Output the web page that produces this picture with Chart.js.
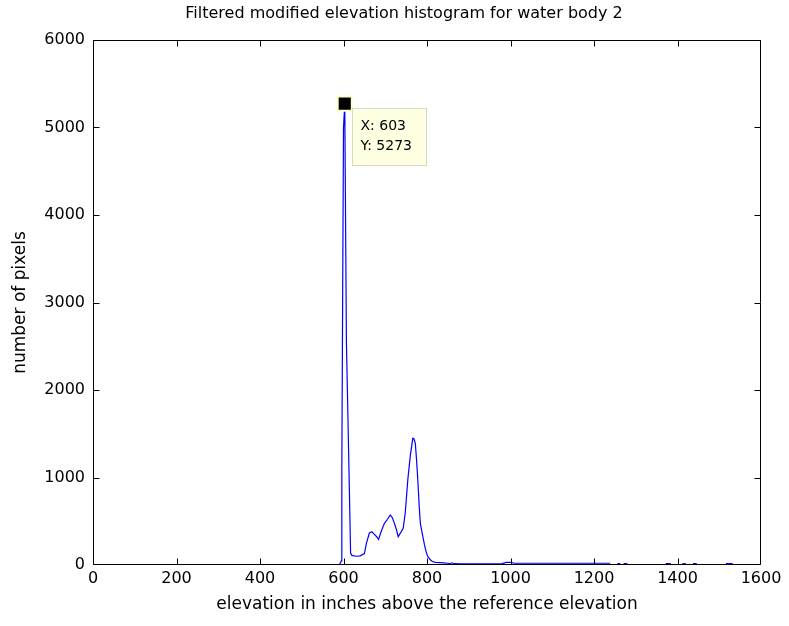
<!DOCTYPE html>
<html>
<head>
<meta charset="utf-8">
<script src="https://cdn.jsdelivr.net/npm/chart.js@4.4.0/dist/chart.umd.min.js"></script>
<style>
  html, body { margin: 0; padding: 0; background: #fff; }
  #wrap { width: 789px; height: 626px; }
</style>
</head>
<body>
<div id="wrap"><canvas id="myChart" width="789" height="626"></canvas></div>
<script>
// histogram (null = gap in the line)
var elevation = [585, 590, 595, 596, 598, 600, 603, 607, 613, 617, 620, 630, 640, 650, 655,
    662, 668, 674, 680, 684, 690, 698, 705, 712, 717, 722, 727, 731, 737, 743, 748, 754, 760, 766, 769,
    772, 775, 778, 781, 784, 789, 794, 798, 802, 808, 813, 820, 830, 840, 850, 855, 860, 865, 880, 900,
    950, 980, 990, 1000, 1010, 1100, 1200, 1239, 1247, 1256, 1263, 1267, 1271, 1280, 1320, 1372, 1384, 1400,
    1412, 1420, 1430, 1437, 1446, 1480, 1516, 1532];
var pixels = [0, 0, 50, 1086, 3086, 4994, 5273, 2552, 1124, 137, 110, 100, 105, 130, 250,
    366, 380, 350, 320, 293, 380, 476, 520, 571, 540, 476, 400, 324, 370, 419, 600, 971, 1250, 1448, 1440,
    1390, 1200, 971, 700, 476, 350, 229, 150, 95, 60, 40, 30, 28, 25, 20, 15, 25, 15, 12, 12,
    12, 15, 30, 30, 20, 20, 20, 20, null, 15, 15, null, 15, 15, null, 15, 15, null,
    15, 15, null, 15, 15, null, 15, 15];
var xTicks = [0, 200, 400, 600, 800, 1000, 1200, 1400, 1600];
var yTicks = [0, 1000, 2000, 3000, 4000, 5000, 6000];
var tipX = 603;
var tipY = 5273;

var pts = [];
for (var i = 0; i < elevation.length; i++) {
    pts.push({ x: elevation[i], y: pixels[i] });
}

var fontFam = "'DejaVu Sans', Arial, sans-serif";

var matlabAxes = {
    id: 'matlabAxes',
    afterDraw: function (chart) {
        var ctx = chart.ctx;
        var a = chart.chartArea;
        var xs = chart.scales.x, ys = chart.scales.y;
        var L = a.left + 0.5, R = a.right - 0.5, T = a.top + 0.5, B = a.bottom - 0.5;
        ctx.save();
        ctx.strokeStyle = '#000';
        ctx.lineWidth = 1;
        ctx.beginPath();
        ctx.rect(L, T, R - L, B - T);
        var tl = 6;
        xTicks.forEach(function (v) {
            var px = Math.min(R, Math.max(L, Math.round(xs.getPixelForValue(v)) + 0.5));
            ctx.moveTo(px, B); ctx.lineTo(px, B - tl);
            ctx.moveTo(px, T); ctx.lineTo(px, T + tl);
        });
        yTicks.forEach(function (v) {
            var py = Math.min(B, Math.max(T, Math.round(ys.getPixelForValue(v)) + 0.5));
            ctx.moveTo(L, py); ctx.lineTo(L + tl, py);
            ctx.moveTo(R, py); ctx.lineTo(R - tl, py);
        });
        ctx.stroke();

        // title
        ctx.fillStyle = '#000';
        ctx.font = '16px ' + fontFam;
        ctx.textAlign = 'center';
        ctx.textBaseline = 'middle';
        ctx.fillText('Filtered modified elevation histogram for water body 2', 404, 14);

        // data tip
        var mx = xs.getPixelForValue(tipX), my = ys.getPixelForValue(tipY);
        var bx = Math.round(mx + 7) + 0.5, by = Math.round(my + 4) + 0.5;
        ctx.fillStyle = '#ffffe1';
        ctx.strokeStyle = '#d8d8c8';
        ctx.fillRect(bx, by, 74, 57);
        ctx.strokeRect(bx, by, 74, 57);
        ctx.fillStyle = '#000';
        ctx.font = '14px ' + fontFam;
        ctx.textAlign = 'left';
        ctx.fillText('X: ' + tipX, bx + 8, by + 18);
        ctx.fillText('Y: ' + tipY, bx + 8, by + 38);
        ctx.restore();
    }
};

var ctx = document.getElementById('myChart').getContext('2d');
var chartObj = new Chart(ctx, {
    type: 'line',
    data: {
        datasets: [
            {
                data: [{ x: tipX, y: tipY }],
                showLine: false,
                pointStyle: 'rect',
                pointRadius: 10,
                pointBorderWidth: 2,
                pointBackgroundColor: '#000',
                pointBorderColor: '#ffffc8'
            },
            {
                data: pts,
                borderColor: '#0000ff',
                borderWidth: 1.2,
                pointRadius: 0,
                fill: false,
                spanGaps: false,
                tension: 0
            }
        ]
    },
    options: {
        responsive: false,
        animation: false,
        layout: { padding: { top: 40, right: 28, left: 0, bottom: 0 } },
        plugins: {
            legend: { display: false },
            title: { display: false },
            tooltip: { enabled: false }
        },
        scales: {
            x: {
                type: 'linear',
                min: 0, max: 1600,
                afterFit: function (s) { s.height = 61; },
                afterBuildTicks: function (s) { s.ticks = xTicks.map(function (v) { return { value: v }; }); },
                grid: { display: false, drawTicks: false },
                border: { display: false },
                ticks: { color: '#000', font: { family: fontFam, size: 16 }, padding: 4, maxRotation: 0,
                    callback: function (v) { return String(v); } },
                title: { display: true, text: 'elevation in inches above the reference elevation', color: '#000',
                    font: { family: fontFam, size: 17 }, padding: { top: 0, bottom: 11 } }
            },
            y: {
                type: 'linear',
                min: 0, max: 6000,
                afterFit: function (s) { s.width = 93; },
                afterBuildTicks: function (s) { s.ticks = yTicks.map(function (v) { return { value: v }; }); },
                grid: { display: false, drawTicks: false },
                border: { display: false },
                ticks: { color: '#000', font: { family: fontFam, size: 16 }, padding: 8,
                    callback: function (v) { return String(v); } },
                title: { display: true, text: 'number of pixels', color: '#000',
                    font: { family: fontFam, size: 17 }, padding: { top: 10, bottom: 0 } }
            }
        }
    },
    plugins: [matlabAxes]
});
</script>
</body>
</html>
